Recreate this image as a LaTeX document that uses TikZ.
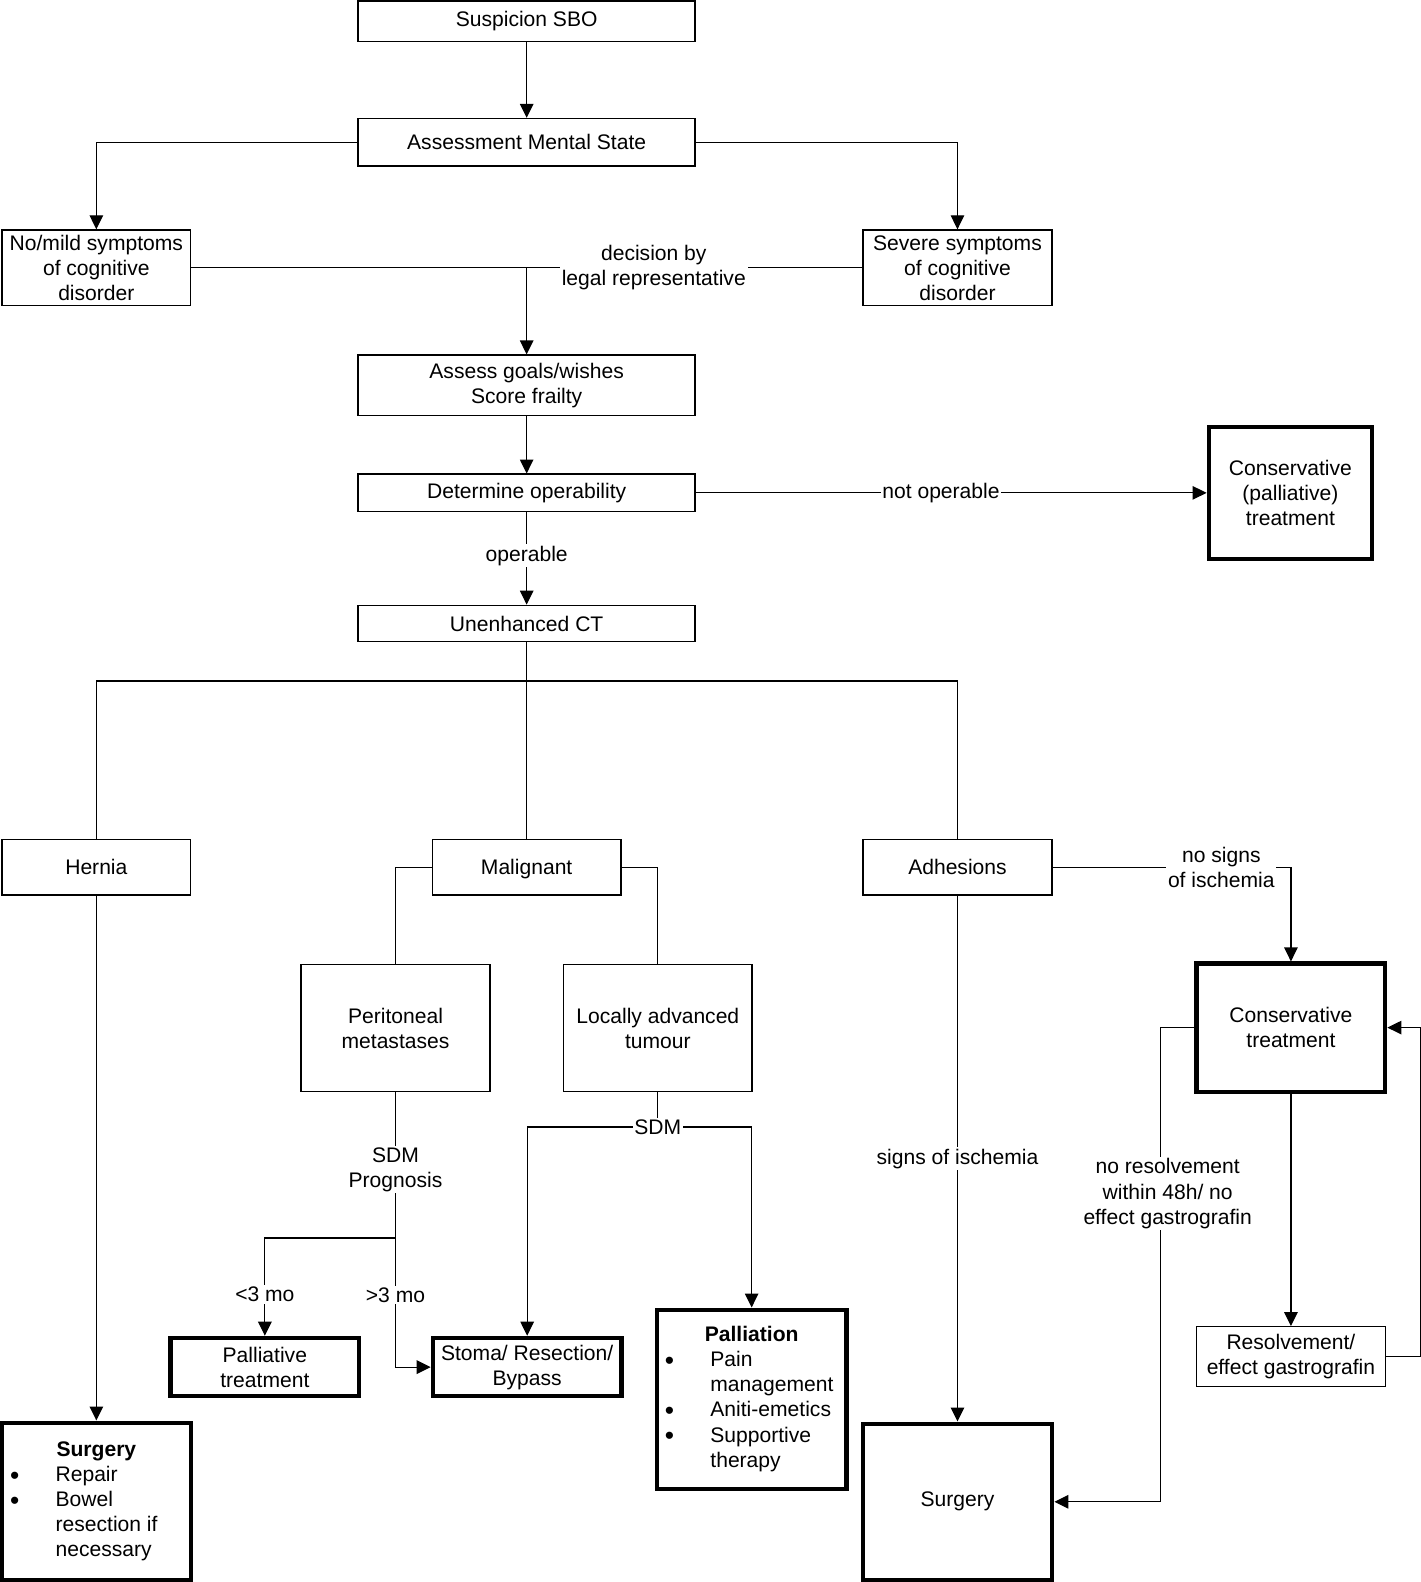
\documentclass[tikz,border=0pt]{standalone}
\usepackage{fontspec}
\setmainfont{Liberation Sans}
\usetikzlibrary{arrows.meta}

\newcommand{\bul}{\raisebox{-1.6pt}[0pt][0pt]{\fontsize{15}{14.3}\selectfont\textbullet}}

\tikzset{
    box/.style={draw, line width=0.8pt, inner sep=0pt, align=center},
    endbox/.style={box, line width=2.4pt},
    lab/.style={fill=white, inner sep=1pt, align=center},
    arr/.style={-{Triangle[length=0.28cm,width=0.27cm]}},
    wide/.style={minimum width=6.742cm},
    mid/.style={minimum width=3.775cm},
}

\begin{document}
\begin{tikzpicture}[x=0.020185cm, y=-0.020185cm, line width=0.7pt,
    font=\fontsize{12}{14.3}\selectfont]
    \useasboundingbox (0,0) rectangle (1408,1568);

    % top part
    \node[box, wide, minimum height=0.807cm] (sbo) at (522,21) {Suspicion SBO};
    \node[box, wide, minimum height=0.949cm] (mental) at (522,141) {Assessment Mental State};
    \node[box, mid, minimum height=1.514cm] (mild) at (95.5,265.5) {No/mild symptoms\\of cognitive\\disorder};
    \node[box, mid, minimum height=1.514cm] (severe) at (949,265.5) {Severe symptoms\\of cognitive\\disorder};
    \node[box, wide, minimum height=1.211cm] (goals) at (522,382) {Assess goals/wishes\\Score frailty};
    \node[box, wide, minimum height=0.747cm] (oper) at (522,488.5) {Determine operability};
    \node[endbox, minimum width=3.27cm, minimum height=2.644cm] (consP) at (1279,488.5) {Conservative\\(palliative)\\treatment};
    \node[box, wide, minimum height=0.727cm] (ct) at (522,618) {Unenhanced CT};

    % diagnosis
    \node[box, mid, minimum height=1.11cm] (hernia) at (95.5,859.5) {Hernia};
    \node[box, mid, minimum height=1.11cm, text depth=0pt] (malig) at (522,859.5) {Malignant};
    \node[box, mid, minimum height=1.11cm] (adh) at (949,859.5) {Adhesions};
    \node[box, mid, minimum height=2.543cm] (perit) at (392,1019) {Peritoneal\\metastases};
    \node[box, mid, minimum height=2.543cm] (locad) at (652,1019) {Locally advanced\\tumour};
    \node[endbox, mid, minimum height=2.563cm] (cons) at (1279.5,1018.5) {Conservative\\treatment};

    % outcomes
    \node[endbox, mid, minimum height=1.171cm] (palT) at (262.5,1355) {Palliative\\treatment};
    \node[endbox, mid, minimum height=1.171cm] (stoma) at (522.5,1355) {Stoma/ Resection/\\Bypass};
    \node[box, mid, minimum height=1.191cm] (resol) at (1279.5,1344.5) {Resolvement/\\effect gastrografin};
    \node[endbox, minimum width=3.795cm, minimum height=3.593cm] (pall) at (745,1387)
        {\begin{tabular}{@{\hspace{0.16cm}}p{0.91cm}@{}p{2.72cm}@{}}
            \multicolumn{2}{@{}c@{}}{\textbf{Palliation}}\\
            \bul & Pain\\
                 & management\\
            \bul & Aniti-emetics\\
            \bul & Supportive\\
                 & therapy
        \end{tabular}};
    \node[endbox, mid, minimum height=3.149cm] (surgL) at (95.5,1488)
        {\begin{tabular}{@{\hspace{0.16cm}}p{0.91cm}@{}p{2.70cm}@{}}
            \multicolumn{2}{@{}c@{}}{\textbf{Surgery}}\\
            \bul & Repair\\
            \bul & Bowel\\
                 & resection if\\
                 & necessary
        \end{tabular}};
    \node[endbox, minimum width=3.795cm, minimum height=3.129cm] (surgR) at (949,1488.5) {Surgery};

    % helper points
    \coordinate (join) at (522,265.5);
    \coordinate (split) at (522,675);
    \coordinate (prog) at (392,1227);
    \coordinate (sdm) at (652,1117);

    % connectors
    \draw[arr] (sbo) -- (mental);
    \draw[arr] (mental.west) -| (mild.north);
    \draw[arr] (mental.east) -| (severe.north);
    \draw (mild.east) -- (severe.west);
    \node[lab] (legal) at (648,265) {decision by\\legal representative};
    \draw[arr] (join) -- (goals);
    \draw[arr] (goals) -- (oper);
    \draw[arr] (oper) -- node[lab, pos=0.48] {not operable} (consP);
    \draw[arr] (oper) -- node[lab, pos=0.47] {operable} (ct);

    \draw (ct) -- (split);
    \draw (hernia.north) |- (split) -| (adh.north);
    \draw (split) -- (malig);
    \draw (malig.west) -| (perit.north);
    \draw (malig.east) -| (locad.north);

    \draw (perit) -- node[lab, pos=0.53] {SDM\\Prognosis} (prog);
    \draw[arr] (prog) -| node[lab, pos=0.79] {<3 mo} (palT.north);
    \draw[arr] (prog) |- node[lab, pos=0.22] {>3 mo} (stoma.west);

    \draw (locad) -- (sdm);
    \draw[arr] (sdm) -| (stoma.north);
    \draw[arr] (sdm) -| (pall.north);
    \node[lab] (sdmlab) at (sdm) {SDM};

    \draw[arr] (hernia) -- (surgL);
    \draw[arr] (adh) -- node[lab] {signs of ischemia} (surgR);
    \draw[arr] (adh.east) -| node[lab, pos=0.354] {no signs\\of ischemia} (cons.north);
    \draw[arr] (cons.west) -- ++(-34,0) |- node[lab, pos=0.175, xshift=0.15cm]
        {no resolvement\\within 48h/ no\\effect gastrografin} (surgR.east);
    \draw[arr] (cons) -- (resol);
    \draw[arr] (resol.east) -- ++(34,0) |- (cons.east);
\end{tikzpicture}
\end{document}
